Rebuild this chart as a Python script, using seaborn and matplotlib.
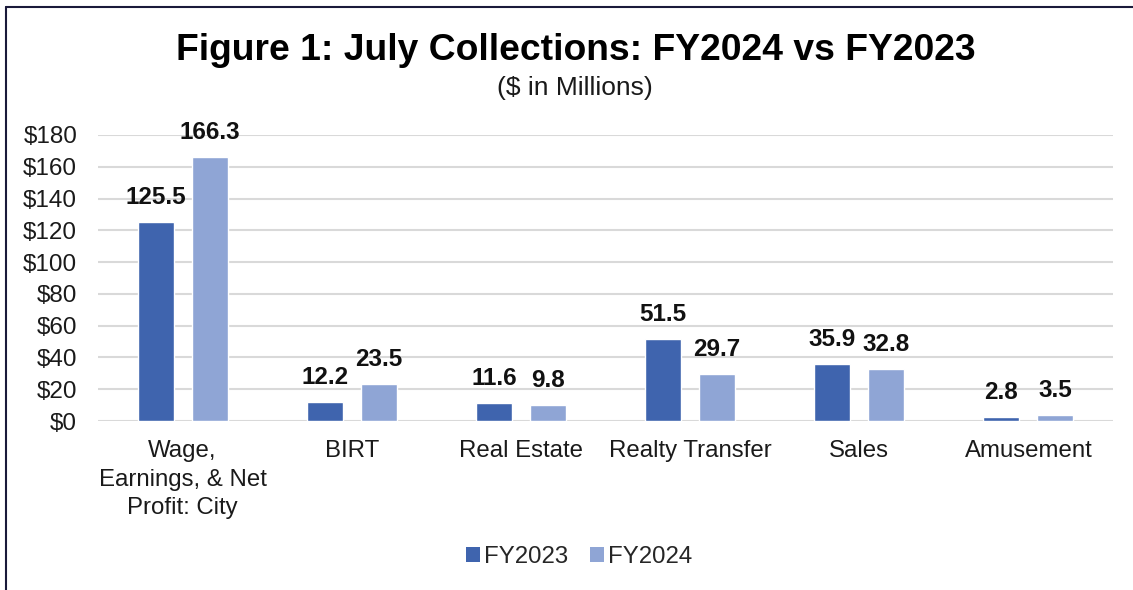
import matplotlib
matplotlib.use("Agg")
import matplotlib.pyplot as plt
import seaborn as sns
import pandas as pd
from matplotlib.lines import Line2D
from matplotlib.patches import Patch

categories = ["Wage,\nEarnings, & Net\nProfit: City", "BIRT", "Real Estate",
              "Realty Transfer", "Sales", "Amusement"]
fy2023 = [125.5, 12.2, 11.6, 51.5, 35.9, 2.8]
fy2024 = [166.3, 23.5, 9.8, 29.7, 32.8, 3.5]
series = ["FY2023", "FY2024"]
yticks = [0, 20, 40, 60, 80, 100, 120, 140, 160, 180]

df = pd.DataFrame({
    "category": categories * 2,
    "value": fy2023 + fy2024,
    "series": [series[0]] * len(categories) + [series[1]] * len(categories),
})

sns.set_theme(style="white")
plt.rcParams["font.family"] = ["Liberation Sans", "DejaVu Sans"]

colors = {"FY2023": "#3F64AE", "FY2024": "#8FA5D5"}

fig = plt.figure(figsize=(11.33, 5.9), dpi=100)
ax = fig.add_axes([0.0865, 0.2864, 0.8958, 0.4848])

sns.barplot(data=df, x="category", y="value", hue="series", order=categories,
            hue_order=series, palette=colors, width=0.639, gap=0.333,
            ax=ax, legend=False, saturation=1)

ax.set_ylim(0, 180)
ax.set_xlim(-0.5, len(categories) - 0.5)
ax.set_yticks(yticks)
ax.set_yticklabels([f"${v}" for v in yticks], fontsize=17.5, color="#1a1a1a")
ax.set_xticks(range(len(categories)))
ax.set_xticklabels(categories, fontsize=17.3, color="#1a1a1a", linespacing=1.4, va="top")
ax.tick_params(axis="y", length=0, pad=15)
ax.tick_params(axis="x", length=0, pad=13.5)
ax.set_xlabel("")
ax.set_ylabel("")
for s in ax.spines.values():
    s.set_visible(False)
ax.yaxis.grid(True, color="#D9D9D9", linewidth=1.5)
ax.set_axisbelow(True)

for cont in ax.containers:
    for bar in cont:
        h = bar.get_height()
        ax.annotate(f"{h:.1f}", (bar.get_x() + bar.get_width() / 2, h),
                    xytext=(0, 13), textcoords="offset points",
                    ha="center", va="baseline", fontsize=17.5, fontweight="bold",
                    color="#111111")

fig.text(576 / 1133, 1 - 50 / 590, "Figure 1: July Collections: FY2024 vs FY2023",
         ha="center", va="center", fontsize=26.8, fontweight="bold", color="#000000")
fig.text(574.5 / 1133, 1 - 88 / 590, "($ in Millions)", ha="center", va="center",
         fontsize=19, color="#1a1a1a")

handles = [Patch(facecolor=colors[s], edgecolor="none", label=s) for s in series]
fig.legend(handles=handles, loc="center", bbox_to_anchor=(0.511, 1 - 557 / 590),
           ncol=2, frameon=False, fontsize=17.3, handlelength=0.6, handleheight=0.6,
           handletextpad=0.15, columnspacing=0.9)

# chart border (top and left edges visible)
fig.add_artist(Line2D([6 / 1133, 6 / 1133], [0, 1 - 7 / 590], transform=fig.transFigure,
                      color="#1a1a3a", linewidth=1.5))
fig.add_artist(Line2D([6 / 1133, 1], [1 - 7 / 590, 1 - 7 / 590], transform=fig.transFigure,
                      color="#1a1a3a", linewidth=1.5))

fig.savefig("out.png", dpi=100, facecolor="white")
